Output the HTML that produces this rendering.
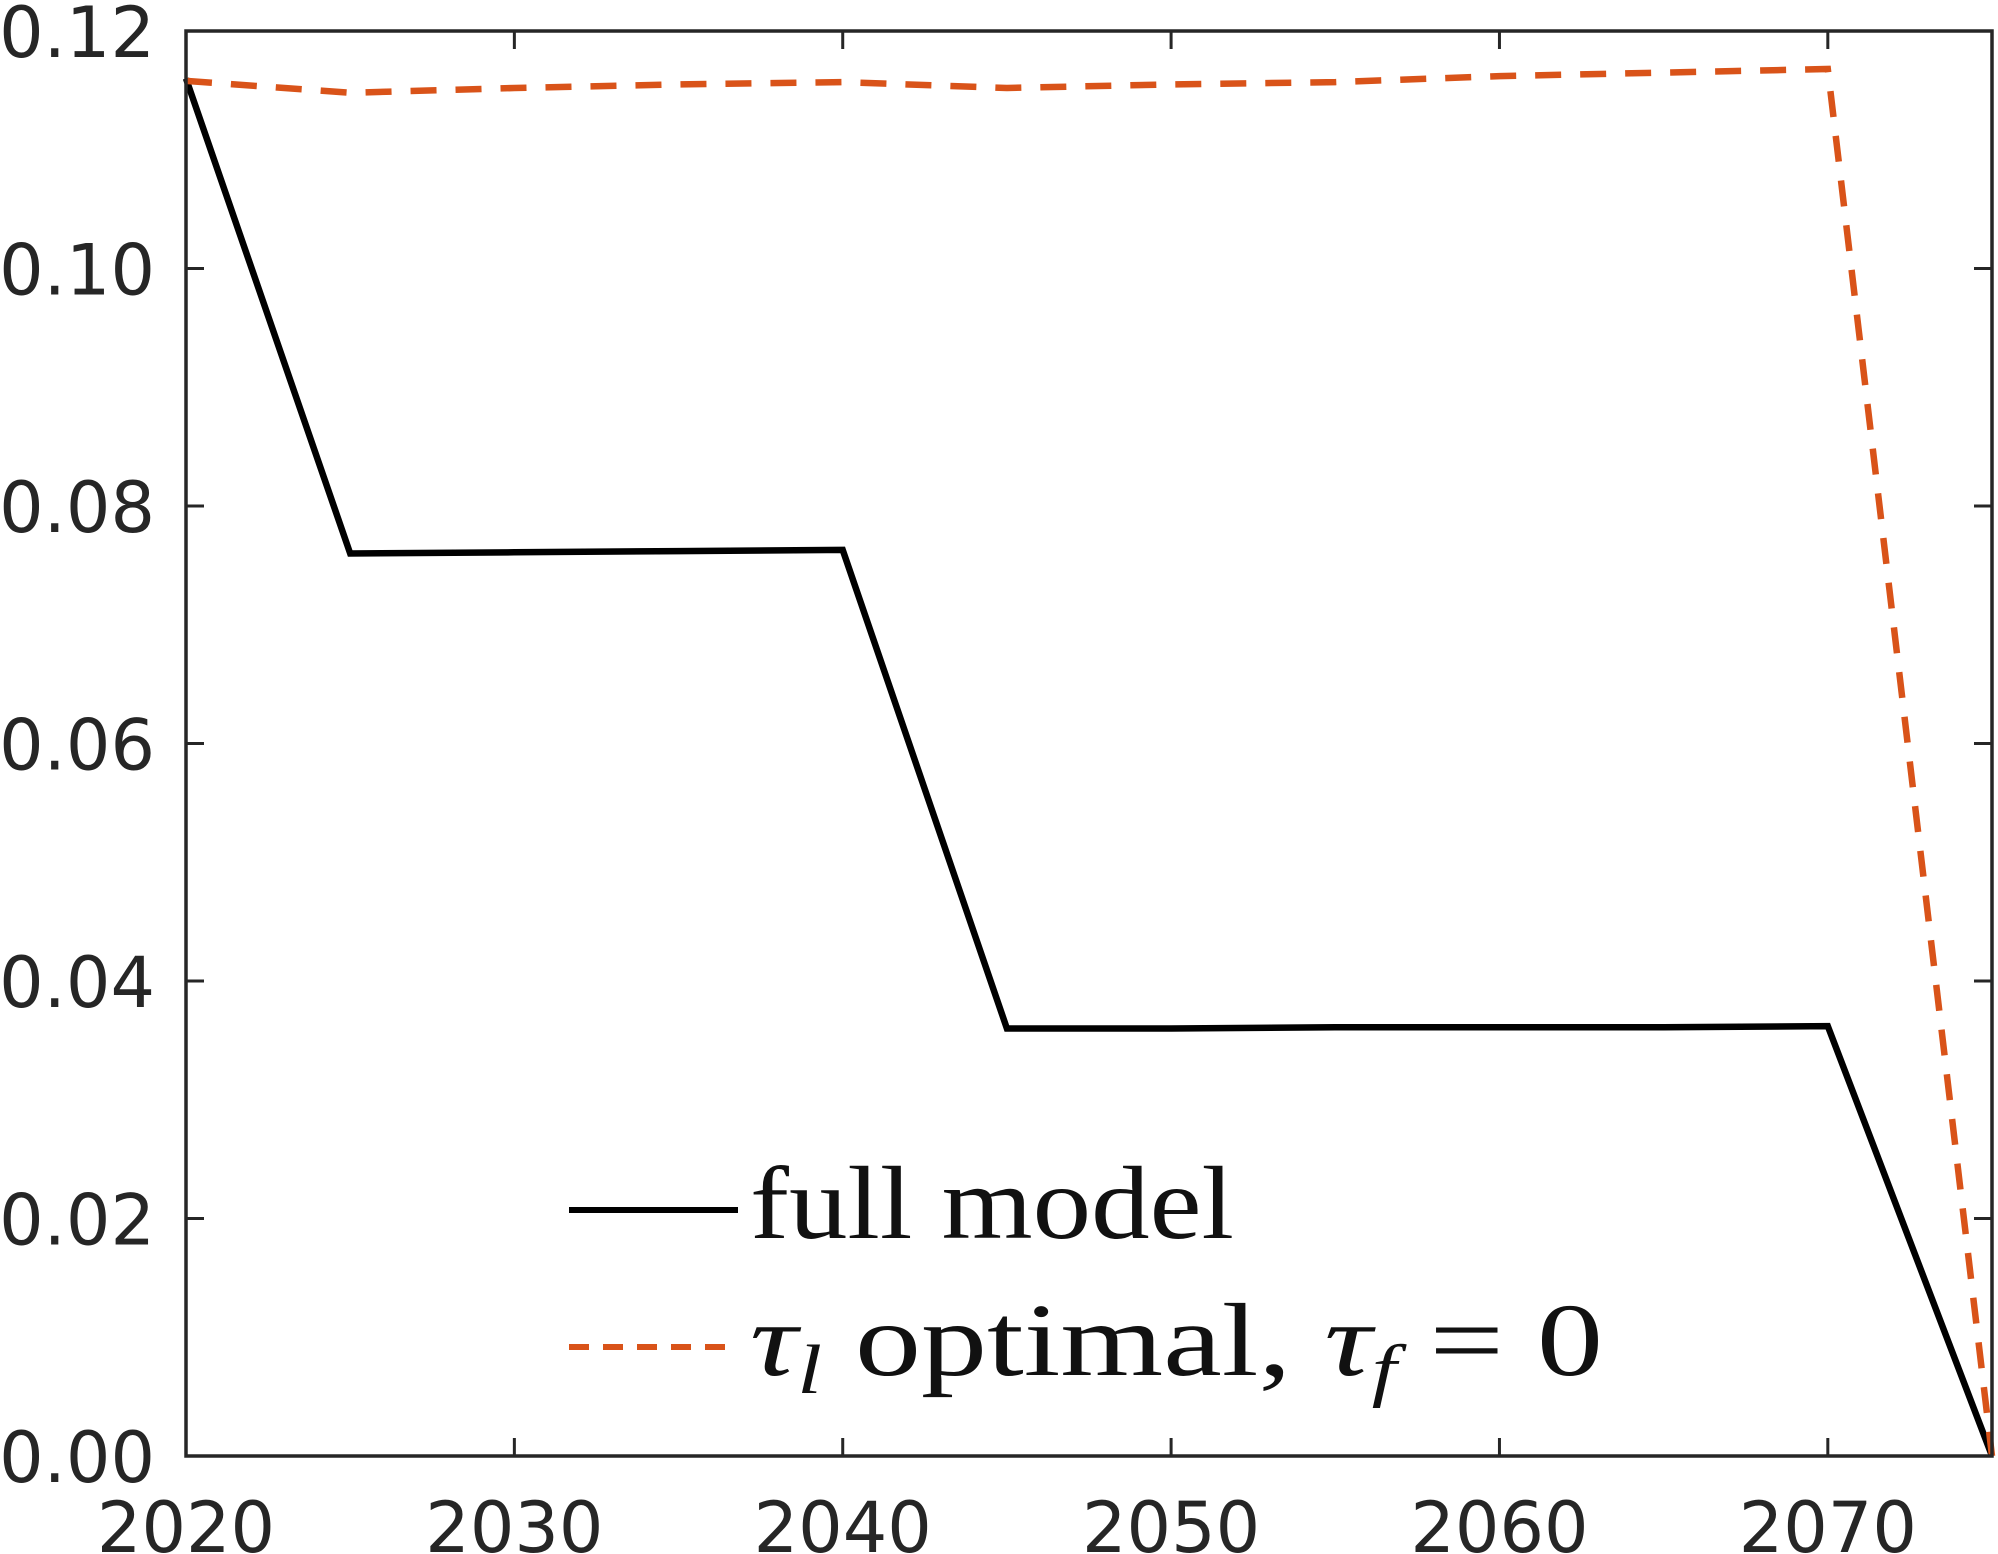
<!DOCTYPE html>
<html><head><meta charset="utf-8"><style>
html,body{margin:0;padding:0;background:#fff;}
svg{display:block;}
</style></head><body>
<svg id="chart" width="1998" height="1554" viewBox="0 0 1998 1554" xmlns="http://www.w3.org/2000/svg">
<g id="plot"></g>
<g id="legend">
  <line x1="569" y1="1210" x2="738" y2="1210" stroke="#000" stroke-width="6"/>
  <text x="750" y="1238" font-family="Liberation Serif, serif" font-size="104" fill="#111" textLength="484" lengthAdjust="spacingAndGlyphs">full model</text>
  <line x1="569" y1="1347" x2="738" y2="1347" stroke="#D95319" stroke-width="6" stroke-dasharray="20,14"/>
  <text x="750" y="1375" font-family="Liberation Serif, serif" font-size="104" fill="#111" textLength="853" lengthAdjust="spacingAndGlyphs"><tspan font-style="italic">τ</tspan><tspan font-style="italic" font-size="70" dy="18">l</tspan><tspan dy="-18"> optimal, </tspan><tspan font-style="italic">τ</tspan><tspan font-style="italic" font-size="70" dy="18">f</tspan><tspan dy="-18"> = 0</tspan></text>
</g>
</svg>
<script>
const years = [2020, 2025, 2030, 2035, 2040, 2045, 2050, 2055, 2060, 2065, 2070, 2075];
const fullModel = [0.1160, 0.0760, 0.0761, 0.0762, 0.0763, 0.0360, 0.0360, 0.0361, 0.0361, 0.0361, 0.0362, 0.0000];
const tauOptimal = [0.1158, 0.1148, 0.1152, 0.1155, 0.1157, 0.1152, 0.1155, 0.1157, 0.1162, 0.1165, 0.1168, 0.0000];
const xTicks = [2020, 2030, 2040, 2050, 2060, 2070];
const xTickLabels = ["2020", "2030", "2040", "2050", "2060", "2070"];
const yTicks = [0, 0.02, 0.04, 0.06, 0.08, 0.10, 0.12];
const yTickLabels = ["0.00", "0.02", "0.04", "0.06", "0.08", "0.10", "0.12"];

const L = 186, R = 1992, T = 31, B = 1456;
const xMin = 2020, xMax = 2075, yMin = 0, yMax = 0.12;
function xScale(v){ return L + (v - xMin) / (xMax - xMin) * (R - L); }
function yScale(v){ return B - (v - yMin) / (yMax - yMin) * (B - T); }
const NS = "http://www.w3.org/2000/svg";
const plot = document.getElementById("plot");
function mk(tag, attrs){ const e = document.createElementNS(NS, tag); for (const k in attrs) e.setAttribute(k, attrs[k]); plot.appendChild(e); return e; }

function series(vals, color, dash, name){
  const d = vals.map((v,i)=>(i?"L":"M")+xScale(years[i]).toFixed(1)+","+yScale(v).toFixed(1)).join(" ");
  const p = mk("path", {d:d, fill:"none", stroke:color, "stroke-width":6.5, "stroke-linejoin":"miter"});
  if (dash) p.setAttribute("stroke-dasharray", dash);
  
  
}
series(fullModel, "#000", null, "series-full-model");
series(tauOptimal, "#D95319", "26,19", "series-tau-l-optimal");

const box = mk("rect", {x:L, y:T, width:R-L, height:B-T, fill:"none", stroke:"#262626", "stroke-width":3.5});



xTicks.forEach((v,i)=>{
  const x = xScale(v);
  const t1 = mk("line", {x1:x, y1:B, x2:x, y2:B-18, stroke:"#262626", "stroke-width":3});
  
  
  const t2 = mk("line", {x1:x, y1:T, x2:x, y2:T+18, stroke:"#262626", "stroke-width":3});
  
  
  const tx = mk("text", {x:x, y:1552, "text-anchor":"middle", "font-family":"DejaVu Sans, sans-serif", "font-size":70, fill:"#262626"});
  tx.textContent = xTickLabels[i];
  
  
});
yTicks.forEach((v,i)=>{
  const y = yScale(v);
  const t1 = mk("line", {x1:L, y1:y, x2:L+18, y2:y, stroke:"#262626", "stroke-width":3});
  
  
  const t2 = mk("line", {x1:R, y1:y, x2:R-18, y2:y, stroke:"#262626", "stroke-width":3});
  
  
  const tx = mk("text", {x:155, y:y+26, "text-anchor":"end", "font-family":"DejaVu Sans, sans-serif", "font-size":70, fill:"#262626"});
  tx.textContent = yTickLabels[i];
  
  
});
</script>
</body></html>
